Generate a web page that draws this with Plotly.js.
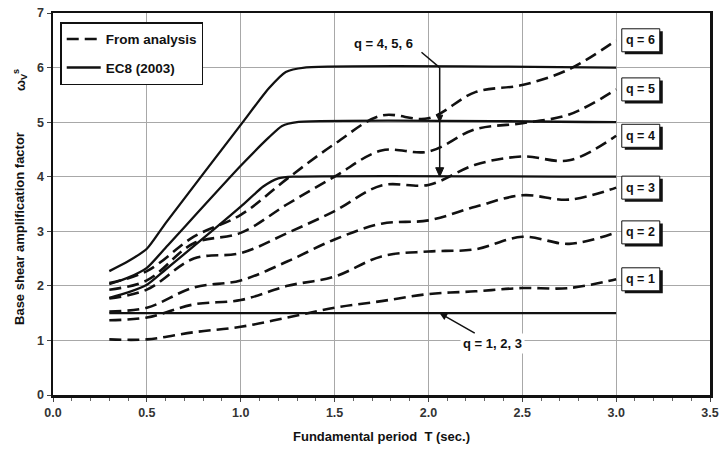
<!DOCTYPE html>
<html><head><meta charset="utf-8">
<script src="https://cdn.plot.ly/plotly-3.0.1.min.js"></script>
<style>html,body{margin:0;padding:0;background:#fff}</style>
</head><body><div id="chart" style="width:721px;height:449px"></div>
<script>
// Fundamental period T (sec.) sample points for the analysis curves
const periods = [0.3, 0.5, 0.75, 1.0, 1.25, 1.5, 1.75, 2.0, 2.25, 2.5, 2.75, 3.0];
// Base shear amplification factor from analysis, per behaviour factor q
const analysisQ1 = [1.02, 1.02, 1.15, 1.25, 1.42, 1.60, 1.72, 1.85, 1.90, 1.96, 1.96, 2.12];
const analysisQ2 = [1.37, 1.42, 1.66, 1.74, 2.00, 2.17, 2.54, 2.63, 2.67, 2.90, 2.77, 2.98];
const analysisQ3 = [1.53, 1.60, 1.97, 2.10, 2.45, 2.85, 3.14, 3.20, 3.45, 3.66, 3.58, 3.80];
const analysisQ4 = [1.77, 1.93, 2.50, 2.60, 2.97, 3.37, 3.84, 3.85, 4.22, 4.37, 4.30, 4.75];
const analysisQ5 = [1.93, 2.10, 2.78, 2.97, 3.50, 4.00, 4.48, 4.46, 4.87, 4.98, 5.14, 5.60];
const analysisQ6 = [2.05, 2.27, 2.90, 3.30, 3.97, 4.60, 5.12, 5.07, 5.55, 5.68, 5.97, 6.50];
const qLabels = ['q = 1', 'q = 2', 'q = 3', 'q = 4', 'q = 5', 'q = 6'];

// EC8 (2003) curves
const ec8Q123T = [0.3, 3.0];
const ec8Q123  = [1.5, 1.5];
const ec8Q4T = [0.3, 0.4, 0.5, 0.6, 1.0, 1.12, 1.2, 1.28, 3.0];
const ec8Q4  = [1.78, 1.88, 2.02, 2.30, 3.45, 3.82, 3.97, 4.0, 4.0];
const ec8Q5T = [0.3, 0.4, 0.5, 0.6, 1.0, 1.15, 1.22, 1.3, 3.0];
const ec8Q5  = [2.03, 2.15, 2.33, 2.70, 4.20, 4.72, 4.93, 5.0, 5.0];
const ec8Q6T = [0.3, 0.4, 0.5, 0.6, 1.0, 1.15, 1.24, 1.34, 3.0];
const ec8Q6  = [2.27, 2.45, 2.68, 3.15, 4.95, 5.62, 5.92, 6.0, 6.0];

const analysis = [analysisQ1, analysisQ2, analysisQ3, analysisQ4, analysisQ5, analysisQ6];
const ec8 = [[ec8Q123T, ec8Q123], [ec8Q4T, ec8Q4], [ec8Q5T, ec8Q5], [ec8Q6T, ec8Q6]];

const FONT = 'Liberation Sans, Arial, sans-serif';
const traces = [];
analysis.forEach((ys, i) => {
  traces.push({
    x: periods, y: ys, type: 'scatter', mode: 'lines',
    line: {color: '#111', width: 2.6, dash: '12px,6px', shape: 'spline', smoothing: 1},
    name: 'From analysis', legendgroup: 'a', showlegend: i === 0, hoverinfo: 'skip'
  });
});
ec8.forEach((c, i) => {
  traces.push({
    x: c[0], y: c[1], type: 'scatter', mode: 'lines',
    line: {color: '#111', width: 2.3, shape: 'spline', smoothing: 0.6},
    name: 'EC8 (2003)', legendgroup: 'b', showlegend: i === 0, hoverinfo: 'skip'
  });
});

const annotations = [];
const shapes = [
  // leader from "q = 4, 5, 6" and the vertical arrow down to the q = 4 plateau
  {type: 'line', xref: 'x', yref: 'y', x0: 1.963, y0: 6.28, x1: 2.06, y1: 6.0, line: {color: '#111', width: 1.5}},
  {type: 'line', xref: 'x', yref: 'y', x0: 2.06, y0: 6.0, x1: 2.06, y1: 4.0, line: {color: '#111', width: 1.5}},
  {type: 'path', xref: 'x', yref: 'y', xsizemode: 'pixel', ysizemode: 'pixel', xanchor: 2.06, yanchor: 4.0,
   path: 'M -4 9 L 0 0 L 4 9 Z', fillcolor: '#111', line: {color: '#111', width: 1}, layer: 'above'},
  {type: 'path', xref: 'x', yref: 'y', xsizemode: 'pixel', ysizemode: 'pixel', xanchor: 2.06, yanchor: 5.0,
   path: 'M -3 7 L 0 0 L 3 7 Z', fillcolor: '#111', line: {color: '#111', width: 1}, layer: 'above'}
];
// q labels: boxed with a drop shadow, placed at each curve's end value
analysis.forEach((ys, i) => {
  const yv = ys[ys.length - 1];
  shapes.push({type: 'rect', xref: 'x', yref: 'y', xsizemode: 'pixel', ysizemode: 'pixel',
    xanchor: 3.03, yanchor: yv, x0: 3, x1: 41, y0: -14, y1: 9,
    fillcolor: '#111', line: {width: 0}, layer: 'above'});
  shapes.push({type: 'rect', xref: 'x', yref: 'y', xsizemode: 'pixel', ysizemode: 'pixel',
    xanchor: 3.03, yanchor: yv, x0: 0, x1: 38, y0: -11.5, y1: 11.5,
    fillcolor: '#fff', line: {color: '#111', width: 1}, layer: 'above'});
  annotations.push({x: 3.03, y: yv, xref: 'x', yref: 'y', xanchor: 'center', xshift: 19, showarrow: false,
    text: qLabels[i], font: {family: FONT, size: 12.5, color: '#111', weight: 'bold'}});
});
// q = 4, 5, 6
annotations.push({x: 1.76, y: 6.45, xref: 'x', yref: 'y', showarrow: false, text: 'q = 4, 5, 6',
  font: {family: FONT, size: 13, color: '#111', weight: 'bold'}});
// q = 1, 2, 3
annotations.push({x: 2.06, y: 1.5, ax: 2.34, ay: 0.95, xref: 'x', yref: 'y', axref: 'x', ayref: 'y',
  showarrow: true, arrowhead: 2, arrowsize: 1, arrowwidth: 1.5, arrowcolor: '#111', text: 'q = 1, 2, 3',
  bgcolor: '#fff', borderpad: 2, font: {family: FONT, size: 13, color: '#111', weight: 'bold'}});
// y-axis title pieces
annotations.push({xref: 'paper', yref: 'paper', x: -0.05, y: 0.435, xanchor: 'center', yanchor: 'middle',
  textangle: -90, showarrow: false,
  text: 'Base shear amplification factor', font: {family: FONT, size: 13, color: '#111', weight: 'bold'}});
annotations.push({xref: 'paper', yref: 'paper', x: -0.05, y: 0.825, xanchor: 'center', yanchor: 'middle',
  textangle: -90, showarrow: false,
  text: 'ω<sub>V</sub><sup>s</sup>', font: {family: FONT, size: 13, color: '#111', weight: 'bold'}});

const layout = {
  width: 721, height: 449,
  margin: {l: 53, r: 11, t: 13, b: 54},
  paper_bgcolor: '#fff', plot_bgcolor: '#fff',
  font: {family: FONT, size: 12, color: '#222'},
  xaxis: {
    range: [0, 3.5], dtick: 0.5, tick0: 0, tickformat: '.1f',
    showgrid: true, gridcolor: '#a8a8a8', gridwidth: 1,
    showline: true, linecolor: '#111', linewidth: 2.5, mirror: true,
    ticks: 'outside', ticklen: 4, tickcolor: '#444', zeroline: false,
    minor: {dtick: 0.1, ticks: 'outside', ticklen: 3, tickcolor: '#666', showgrid: false},
    tickfont: {family: FONT, size: 12.5, color: '#333', weight: 'bold'},
    title: {text: 'Fundamental period  T (sec.)', standoff: 14,
      font: {family: FONT, size: 13, color: '#111', weight: 'bold'}}
  },
  yaxis: {
    range: [0, 7], dtick: 1, tick0: 0,
    showgrid: true, gridcolor: '#a8a8a8', gridwidth: 1,
    showline: true, linecolor: '#111', linewidth: 2.5, mirror: true,
    ticks: 'outside', ticklen: 4, tickcolor: '#444', zeroline: false,
    tickfont: {family: FONT, size: 12.5, color: '#333', weight: 'bold'}
  },
  showlegend: true,
  legend: {x: 0.011, y: 0.976, xanchor: 'left', yanchor: 'top',
    bgcolor: '#fff', bordercolor: '#111', borderwidth: 1.5,
    traceorder: 'grouped', tracegroupgap: 8, itemwidth: 34,
    font: {family: FONT, size: 13.5, color: '#111', weight: 'bold'}},
  shapes: shapes,
  annotations: annotations
};
Plotly.newPlot('chart', traces, layout, {displayModeBar: false, staticPlot: true});
</script></body></html>
